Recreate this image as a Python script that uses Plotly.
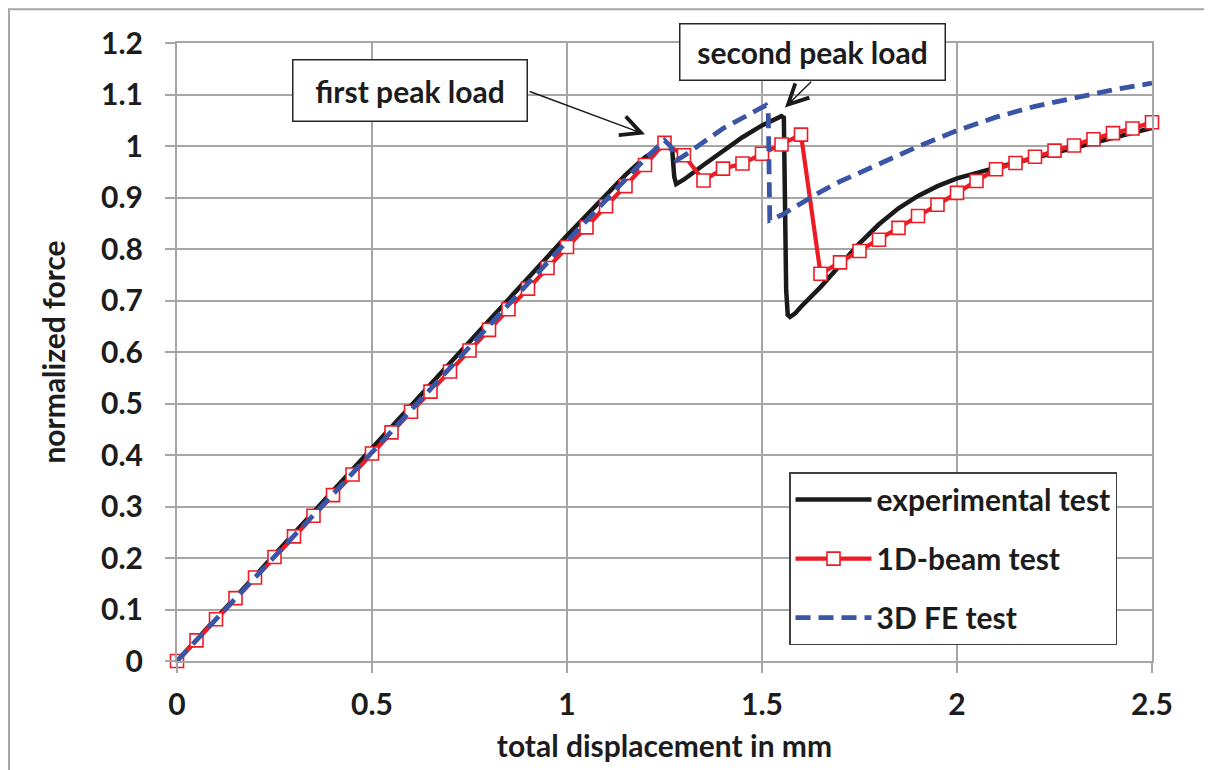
import plotly.graph_objects as go

# ---------------- data ----------------
beam_x = [0.00, 0.05, 0.10, 0.15, 0.20, 0.25, 0.30, 0.35, 0.40, 0.45,
          0.50, 0.55, 0.60, 0.65, 0.70, 0.75, 0.80, 0.85, 0.90, 0.95,
          1.00, 1.05, 1.10, 1.15, 1.20, 1.25, 1.30, 1.35, 1.40, 1.45,
          1.50, 1.55, 1.60, 1.65, 1.70, 1.75, 1.80, 1.85, 1.90, 1.95,
          2.00, 2.05, 2.10, 2.15, 2.20, 2.25, 2.30, 2.35, 2.40, 2.45, 2.50]
beam_y = [0.000, 0.040, 0.081, 0.122, 0.162, 0.202, 0.242, 0.282, 0.322, 0.362,
          0.403, 0.444, 0.484, 0.523, 0.562, 0.603, 0.643, 0.683, 0.723, 0.763,
          0.804, 0.842, 0.883, 0.922, 0.963, 1.006, 0.982, 0.933, 0.956, 0.966,
          0.985, 1.003, 1.022, 0.752, 0.774, 0.796, 0.818, 0.841, 0.864, 0.886,
          0.909, 0.932, 0.955, 0.967, 0.979, 0.991, 1.001, 1.013, 1.025, 1.034, 1.046]

exp_x = [0.0, 0.2, 0.4, 0.6, 0.8, 1.0, 1.1, 1.15, 1.2, 1.23, 1.25, 1.262, 1.27,
         1.275, 1.28, 1.3, 1.35, 1.4, 1.45, 1.5, 1.53, 1.55, 1.556, 1.562, 1.566,
         1.572, 1.585, 1.6, 1.65, 1.7, 1.75, 1.8, 1.85, 1.9, 1.95, 2.0, 2.05,
         2.1, 2.2, 2.3, 2.4, 2.5]
exp_y = [0.0, 0.166, 0.331, 0.496, 0.661, 0.826, 0.906, 0.944, 0.978, 0.993, 1.0,
         1.001, 0.99, 0.94, 0.926, 0.935, 0.963, 0.99, 1.017, 1.04, 1.052, 1.058,
         1.055, 0.72, 0.672, 0.668, 0.675, 0.688, 0.726, 0.768, 0.811, 0.848, 0.879,
         0.903, 0.922, 0.937, 0.948, 0.958, 0.977, 0.996, 1.015, 1.035]

fe_x = [0.0, 0.5, 1.0, 1.2, 1.25, 1.265, 1.28, 1.3, 1.4, 1.5, 1.51, 1.516, 1.52,
        1.55, 1.6, 1.65, 1.7, 1.75, 1.8, 1.9, 2.0, 2.1, 2.2, 2.3, 2.4, 2.5]
fe_y = [0.0, 0.405, 0.815, 0.975, 1.011, 1.0, 0.972, 0.981, 1.034, 1.077, 1.079,
        1.07, 0.856, 0.866, 0.889, 0.911, 0.931, 0.948, 0.966, 0.999, 1.03, 1.056,
        1.077, 1.094, 1.109, 1.122]

series_names = ["experimental test", "1D-beam test", "3D FE test"]
x_title = "total displacement in mm"
y_title = "normalized force"
callouts = ["first peak load", "second peak load"]

# ---------------- style ----------------
FONT = "Lato"
TXT = "#1c1c1c"
GRID = "#a6a6a6"
FS = 30
BOLD = dict(family=FONT, size=FS, color=TXT, weight="bold")

fig = go.Figure()
fig.add_trace(go.Scatter(x=exp_x, y=exp_y, mode="lines", name=series_names[0],
                         legendgroup="a",
                         line=dict(color="#1a1a1a", width=4.5)))
fig.add_trace(go.Scatter(x=beam_x, y=beam_y, mode="lines+markers", name=series_names[1],
                         legendgroup="b", cliponaxis=False,
                         line=dict(color="#ed1c24", width=4.2),
                         marker=dict(symbol="square", size=13, color="white",
                                     line=dict(color="#ed1c24", width=1.6))))
fig.add_trace(go.Scatter(x=fe_x, y=fe_y, mode="lines", name=series_names[2],
                         legendgroup="c",
                         line=dict(color="#3a54a6", width=4.8, dash="15px,8px")))

axis_common = dict(
    showgrid=True, gridcolor=GRID, gridwidth=2,
    showline=True, linecolor=GRID, linewidth=2, mirror=True,
    ticks="outside", ticklen=10, tickwidth=2, tickcolor=GRID,
    zeroline=False, automargin=False,
    tickfont=BOLD,
)

fig.update_layout(
    width=1204, height=762,
    margin=dict(l=169, r=60, t=35, b=109),
    paper_bgcolor="white", plot_bgcolor="white",
    font=BOLD,
    xaxis=dict(range=[0, 2.5], dtick=0.5, tick0=0, ticklabelstandoff=6,
               title=dict(text=x_title, standoff=16, font=BOLD),
               **axis_common),
    yaxis=dict(range=[0, 1.2], dtick=0.1, tick0=0, ticklabelstandoff=16,
               title=dict(text=y_title, standoff=27, font=BOLD),
               **axis_common),
    showlegend=True,
    legend=dict(x=0.6277, y=0.3057, xanchor="left", yanchor="top",
                bgcolor="white", bordercolor="#404040", borderwidth=1.5,
                font=BOLD, tracegroupgap=17, itemwidth=76,
                entrywidth=330, entrywidthmode="pixels"),
)

# outer frame (only left/top edges fall inside the page)
fig.add_shape(type="rect", xref="paper", yref="paper",
              x0=-0.1723, x1=1.3, y0=-0.4, y1=1.0545,
              line=dict(color=GRID, width=2), layer="below")

# callout boxes
fig.add_annotation(x=0.5967, y=1.108, xref="x", yref="y", text=callouts[0],
                   showarrow=False, width=231, height=58, borderpad=1,
                   bordercolor="#262626", borderwidth=1.5, bgcolor="white",
                   font=BOLD)
fig.add_annotation(x=1.630, y=1.183, xref="x", yref="y", text=callouts[1],
                   showarrow=False, width=262, height=53, borderpad=1,
                   bordercolor="#262626", borderwidth=1.5, bgcolor="white",
                   font=BOLD)

# arrows
for (tx, ty, sx, sy) in [(1.2, 1.0228, 0.9008, 1.1069), (1.559, 1.0746, 1.630, 1.1276)]:
    fig.add_annotation(x=tx, y=ty, ax=sx, ay=sy, xref="x", yref="y",
                       axref="x", ayref="y", text="", showarrow=True,
                       arrowhead=5, arrowsize=2.8, arrowwidth=1.4,
                       arrowcolor="#1a1a1a", standoff=0, startstandoff=0)

fig.write_html("out.html")
